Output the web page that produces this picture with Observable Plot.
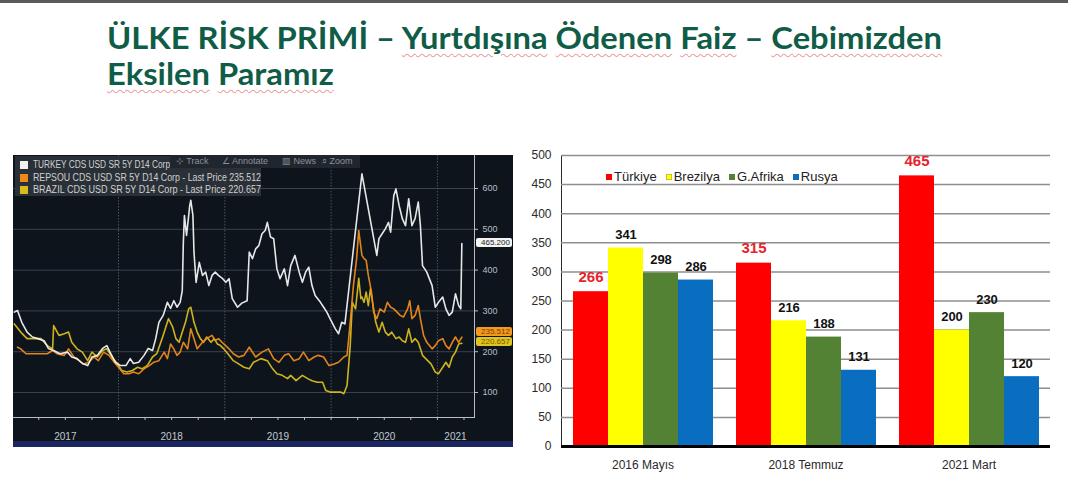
<!DOCTYPE html>
<html><head><meta charset="utf-8">
<script src="https://cdn.jsdelivr.net/npm/d3@7"></script>
<script src="https://cdn.jsdelivr.net/npm/@observablehq/plot@0.6"></script>
<style>
body{margin:0;background:#fff;width:1068px;height:479px;overflow:hidden;position:relative;font-family:"Liberation Sans",Arial,sans-serif;}
#topline{position:absolute;left:0;top:0;width:1068px;height:3px;background:#5a5a5a;}
.tl{position:absolute;left:107px;font-family:Lato,"Open Sans",sans-serif;font-weight:700;font-size:31px;line-height:36px;height:36px;color:#0f5c47;white-space:nowrap;transform-origin:0 0;}
#t1{top:19px;} #t2{top:55px;}
.sp{text-decoration:underline wavy #e9a0a0;text-decoration-thickness:1px;text-underline-offset:4px;}
#left{position:absolute;left:13px;top:155px;width:500px;height:292px;background:#0d141c;overflow:hidden;}
#strip{position:absolute;left:13px;top:441px;width:500px;height:6px;background:#1b2660;}
#leg{position:absolute;left:2px;top:1px;width:246px;height:40px;background:rgba(48,53,60,0.85);font-size:10px;color:#d0d0d0;font-family:"Liberation Sans",Arial;}
#leg div.row{position:absolute;left:5px;height:12px;line-height:12px;white-space:nowrap;}
#leg span.sw{position:absolute;left:0;top:2px;width:8px;height:8px;}
#leg span.tx{position:absolute;left:13px;top:0;transform-origin:0 50%;}
#tool{position:absolute;left:157px;top:0px;width:190px;height:13px;background:#20262d;color:#8d939a;font-size:9px;line-height:13px;white-space:nowrap;}
#tool span{position:absolute;top:0;}
.tag{position:absolute;left:463px;height:9px;line-height:9px;font-size:8px;padding:0 2px 0 5px;border-radius:2px;white-space:nowrap;}
#right{position:absolute;left:520px;top:140px;width:540px;height:339px;}
#rleg{position:absolute;left:606px;top:169px;font-size:13px;color:#222;white-space:nowrap;font-family:"Liberation Sans",Arial;}
#rleg span.it{margin-right:9px;}
#rleg span.sq{display:inline-block;width:6px;height:6px;margin-right:2px;vertical-align:1px;}
</style></head>
<body>
<div id="topline"></div>
<div id="t1" class="tl">ÜLKE RİSK PRİMİ – <span class="sp">Yurtdışına</span> <span class="sp">Ödenen</span> <span class="sp">Faiz</span> – <span class="sp">Cebimizden</span></div>
<div id="t2" class="tl"><span class="sp">Eksilen</span> <span class="sp">Paramız</span></div>
<div id="left"></div>
<div id="strip"></div>
<div id="right"></div>
<div id="rleg"></div>
<script>
// ---------- Left chart data (decimal year, CDS bps) ----------
const turkey = [[2017.02,297],[2017.05,301],[2017.09,272],[2017.14,248],[2017.19,236],[2017.24,232],[2017.30,227],[2017.34,208],[2017.39,203],[2017.45,195],[2017.52,199],[2017.56,187],[2017.61,183],[2017.66,171],[2017.71,166],[2017.75,187],[2017.80,191],[2017.85,208],[2017.89,215],[2017.92,199],[2017.97,174],[2018.02,166],[2018.07,166],[2018.11,183],[2018.14,171],[2018.19,174],[2018.24,191],[2018.28,208],[2018.32,203],[2018.35,232],[2018.38,272],[2018.42,289],[2018.46,321],[2018.49,306],[2018.52,325],[2018.55,309],[2018.58,321],[2018.60,350],[2018.61,468],[2018.62,534],[2018.64,485],[2018.65,509],[2018.67,558],[2018.68,571],[2018.70,534],[2018.71,444],[2018.73,370],[2018.76,419],[2018.79,387],[2018.82,395],[2018.85,362],[2018.88,387],[2018.91,395],[2018.94,387],[2018.98,379],[2019.01,370],[2019.04,379],[2019.07,330],[2019.12,309],[2019.16,319],[2019.21,325],[2019.23,444],[2019.26,428],[2019.29,452],[2019.32,460],[2019.35,489],[2019.38,497],[2019.40,517],[2019.43,481],[2019.46,477],[2019.49,403],[2019.52,379],[2019.56,403],[2019.59,362],[2019.62,411],[2019.66,436],[2019.70,395],[2019.73,370],[2019.76,395],[2019.79,407],[2019.82,362],[2019.85,338],[2019.90,321],[2019.93,309],[2019.96,297],[2019.99,281],[2020.04,256],[2020.07,244],[2020.10,272],[2020.13,268],[2020.29,636],[2020.43,436],[2020.45,477],[2020.48,489],[2020.51,501],[2020.54,517],[2020.56,493],[2020.59,583],[2020.61,599],[2020.64,558],[2020.67,526],[2020.70,509],[2020.73,575],[2020.76,509],[2020.79,526],[2020.82,567],[2020.84,509],[2020.86,411],[2020.90,395],[2020.95,362],[2020.98,309],[2021.01,321],[2021.05,334],[2021.08,305],[2021.11,289],[2021.14,297],[2021.17,342],[2021.20,313],[2021.22,305],[2021.23,465.2]];
const southAfrica = [[2017.05,211],[2017.08,207],[2017.13,195],[2017.20,195],[2017.27,195],[2017.33,195],[2017.38,203],[2017.42,195],[2017.49,191],[2017.53,207],[2017.58,187],[2017.63,178],[2017.67,170],[2017.72,174],[2017.77,187],[2017.81,178],[2017.86,199],[2017.91,191],[2017.96,174],[2018.00,162],[2018.05,146],[2018.10,146],[2018.14,150],[2018.19,146],[2018.24,158],[2018.29,166],[2018.33,174],[2018.38,178],[2018.43,199],[2018.46,183],[2018.49,219],[2018.52,207],[2018.55,191],[2018.58,199],[2018.61,223],[2018.65,207],[2018.68,256],[2018.71,232],[2018.74,207],[2018.79,223],[2018.83,232],[2018.88,240],[2018.91,227],[2018.94,232],[2018.99,219],[2019.04,207],[2019.08,195],[2019.13,187],[2019.18,191],[2019.23,211],[2019.29,187],[2019.35,199],[2019.41,207],[2019.46,183],[2019.51,174],[2019.56,191],[2019.60,195],[2019.65,178],[2019.70,183],[2019.74,199],[2019.79,178],[2019.84,187],[2019.88,191],[2019.93,187],[2019.98,166],[2020.03,170],[2020.07,174],[2020.12,187],[2020.15,191],[2020.18,272],[2020.21,362],[2020.24,428],[2020.26,497],[2020.29,436],[2020.31,428],[2020.33,424],[2020.35,387],[2020.38,346],[2020.40,297],[2020.43,281],[2020.46,305],[2020.50,297],[2020.53,321],[2020.56,309],[2020.59,305],[2020.62,297],[2020.65,289],[2020.68,285],[2020.72,305],[2020.74,325],[2020.76,281],[2020.79,289],[2020.82,313],[2020.84,281],[2020.87,240],[2020.90,223],[2020.95,207],[2020.98,215],[2021.01,227],[2021.05,232],[2021.08,215],[2021.11,207],[2021.14,223],[2021.17,236],[2021.20,223],[2021.23,235.512]];
const brazil = [[2017.02,268],[2017.08,248],[2017.14,232],[2017.20,232],[2017.27,232],[2017.33,215],[2017.38,207],[2017.39,264],[2017.44,240],[2017.49,244],[2017.53,248],[2017.56,223],[2017.61,207],[2017.66,199],[2017.71,178],[2017.75,199],[2017.80,187],[2017.85,203],[2017.89,207],[2017.94,187],[2017.99,170],[2018.03,154],[2018.08,150],[2018.13,154],[2018.18,162],[2018.22,158],[2018.27,166],[2018.32,187],[2018.36,195],[2018.41,232],[2018.44,256],[2018.47,281],[2018.51,260],[2018.54,232],[2018.57,223],[2018.60,248],[2018.63,272],[2018.66,305],[2018.68,309],[2018.71,272],[2018.74,248],[2018.77,232],[2018.80,223],[2018.83,236],[2018.87,223],[2018.90,232],[2018.93,219],[2018.96,215],[2018.99,207],[2019.04,191],[2019.08,178],[2019.13,170],[2019.18,162],[2019.23,158],[2019.27,174],[2019.34,183],[2019.40,178],[2019.45,158],[2019.49,146],[2019.54,142],[2019.59,134],[2019.62,142],[2019.67,129],[2019.73,142],[2019.78,134],[2019.82,129],[2019.87,125],[2019.92,125],[2019.95,105],[2019.99,101],[2020.04,101],[2020.09,101],[2020.12,97],[2020.15,117],[2020.18,215],[2020.20,321],[2020.23,305],[2020.25,354],[2020.26,380],[2020.28,330],[2020.29,334],[2020.31,321],[2020.33,346],[2020.35,313],[2020.37,354],[2020.39,321],[2020.42,272],[2020.45,248],[2020.48,272],[2020.51,248],[2020.54,240],[2020.57,248],[2020.61,232],[2020.64,236],[2020.67,227],[2020.70,223],[2020.73,256],[2020.76,223],[2020.79,232],[2020.82,223],[2020.86,191],[2020.89,183],[2020.94,170],[2020.98,150],[2021.01,146],[2021.05,162],[2021.08,174],[2021.11,162],[2021.14,187],[2021.17,199],[2021.20,219],[2021.23,220.657]];
const leftSeries = [
  {name:"TURKEY CDS USD SR 5Y D14 Corp", short:"TURKEY", color:"#f2f2f2", data:turkey},
  {name:"REPSOU CDS USD SR 5Y D14 Corp", short:"REPSOU", color:"#ee8a1c", data:southAfrica},
  {name:"BRAZIL CDS USD SR 5Y D14 Corp", short:"BRAZIL", color:"#d8bd1c", data:brazil}
];
const yTicksLeft = [100,200,300,400,500,600];
const yearStarts = [2018,2019,2020,2021];
const quarterTicks = d3.range(2017.25, 2021.3, 0.25);
const yearLabelPos = [2017.5, 2018.5, 2019.5, 2020.5, 2021.17];
const toolbarItems = [["⊹ Track", 6], ["∠ Annotate", 52], ["▥ News", 112], ["⌕ Zoom", 152]];

const leftRows = leftSeries.flatMap(s => s.data.map(([t,v]) => ({s:s.short, t, v})));
const drawOrder = ["BRAZIL","REPSOU","TURKEY"];

const leftPlot = Plot.plot({
  width: 500, height: 292,
  marginLeft: 0, marginRight: 39, marginTop: 0, marginBottom: 30,
  style: {background:"transparent", color:"#b9bec4", fontSize:"9px", fontFamily:"Liberation Sans, Arial"},
  x: {domain:[2017.0122, 2021.349], ticks: quarterTicks, tickSize: 3, tickFormat: () => "", label: null, line: true},
  y: {domain:[38.7, 680.9], axis:"right", ticks: yTicksLeft, tickSize: 3, tickPadding: 5, label: null, line: true},
  marks: [
    Plot.ruleY(yTicksLeft, {stroke:"#3b424a", strokeWidth:1}),
    Plot.ruleX(yearStarts, {stroke:"#4a525b", strokeWidth:1, strokeDasharray:"1.5,1.5"}),
    ...drawOrder.map(name => {
      const s = leftSeries.find(d => d.short === name);
      return Plot.line(leftRows.filter(d => d.s === name), {x:"t", y:"v", stroke: s.color, strokeWidth: 1.6, strokeOpacity: 0.95});
    }),
    Plot.text(yearLabelPos, {x: d => d, text: d => String(Math.floor(d)), frameAnchor:"bottom", lineAnchor:"middle", dy: 19, fill:"#c3c8ce", fontSize: 10})
  ]
});
const leftDiv = document.getElementById("left");
leftDiv.appendChild(leftPlot);

// legend box + toolbar (Bloomberg overlay)
const leg = document.createElement("div"); leg.id = "leg";
leftDiv.appendChild(leg);
const rowWidths = [137, 228, 228];
leftSeries.forEach((s,i) => {
  const r = document.createElement("div"); r.className = "row";
  r.style.top = (3 + i*12.5) + "px";
  const last = s.data[s.data.length-1][1];
  r.innerHTML = `<span class="sw" style="background:${s.color}"></span><span class="tx">${s.name}` + (i>0 ? ` - Last Price ${last.toFixed(3)}` : "") + `</span>`;
  leg.appendChild(r);
  const tx = r.querySelector(".tx");
  tx.style.transform = `scaleX(${rowWidths[i] / tx.getBoundingClientRect().width})`;
});
const tool = document.createElement("div"); tool.id = "tool";
tool.innerHTML = toolbarItems.map(([t, x]) => `<span style="left:${x}px">${t}</span>`).join("");
leftDiv.appendChild(tool);

// last-price tags on the right axis
const ys = leftPlot.scale("y");
const tagStyles = {TURKEY:["#f4f4f4","#222"], REPSOU:["#f29a1e","#7a3c00"], BRAZIL:["#e2c41e","#6d5a00"]};
const tagShift = {TURKEY:0, REPSOU:-5, BRAZIL:-1};
["BRAZIL","REPSOU","TURKEY"].forEach(name => {
  const s = leftSeries.find(d => d.short === name);
  const last = s.data[s.data.length-1][1];
  const t = document.createElement("div"); t.className = "tag";
  const y = ys.apply(last) + tagShift[name];
  t.style.top = (y - 4.5) + "px";
  t.style.background = tagStyles[name][0]; t.style.color = tagStyles[name][1];
  t.textContent = last.toFixed(3);
  leftDiv.appendChild(t);
});

// ---------- Right chart data ----------
const categories = ["2016 Mayıs", "2018 Temmuz", "2021 Mart"];
const countries = ["Türkiye", "Brezilya", "G.Afrika", "Rusya"];
const countryColors = ["#ff0000", "#ffff00", "#548235", "#0a6ec0"];
const turkiye = [266, 315, 465];
const brezilya = [341, 216, 200];
const gAfrika = [298, 188, 230];
const rusya = [286, 131, 120];
const yTicksRight = d3.range(0, 501, 50);

const seriesVals = [turkiye, brezilya, gAfrika, rusya];
const table = [];
categories.forEach((c, i) => countries.forEach((k, j) => table.push({cat: c, country: k, value: seriesVals[j][i]})));

const rightPlot = Plot.plot({
  width: 540, height: 339,
  marginLeft: 40, marginRight: 10, marginTop: 15, marginBottom: 33,
  style: {background:"transparent", fontFamily:"Liberation Sans, Arial", fontSize:"12px", color:"#2a2a2a"},
  fx: {domain: categories, padding: 0, axis: "bottom", tickSize: 0, tickPadding: 14, label: null},
  x: {domain: countries, paddingInner: 0, paddingOuter: 0.268, axis: null},
  y: {domain: [0, 500], ticks: yTicksRight, tickSize: 0, tickPadding: 10, label: null, line: true},
  color: {domain: countries, range: countryColors},
  marks: [
    Plot.ruleY(yTicksRight.filter(d => d > 0), {stroke:"#8e8e8e", strokeWidth:1.5}),
    Plot.barY(table, {fx:"cat", x:"country", y:"value", fill:"country"}),
    Plot.ruleY([0], {stroke:"#000", strokeWidth:3}),
    Plot.text(table.filter(d => d.country === "Türkiye"), {fx:"cat", x:"country", y:"value", text:"value", dy:-15, fill:"#e8222a", fontWeight:"bold", fontSize:15}),
    Plot.text(table.filter(d => d.country !== "Türkiye"), {fx:"cat", x:"country", y:"value", text:"value", dy:-13, fill:"#111", fontWeight:"bold", fontSize:13})
  ]
});
document.getElementById("right").appendChild(rightPlot);
rightPlot.querySelectorAll('g[aria-label^="y-axis"] path').forEach(p => p.setAttribute("stroke", "#8e8e8e"));

// legend inside plot area
const rleg = document.getElementById("rleg");
rleg.innerHTML = countries.map((k, j) =>
  `<span class="it"><span class="sq" style="background:${countryColors[j]};${j===1?'box-shadow:0 0 0 0.5px #9a9a40 inset;':''}"></span>${k}</span>`).join("");

// fit title width to reference
const t1 = document.getElementById("t1"), t2 = document.getElementById("t2");
const k = 835 / t1.getBoundingClientRect().width;
t1.style.transform = `scaleX(${k})`;
t2.style.transform = `scaleX(${k})`;
</script>
</body></html>
